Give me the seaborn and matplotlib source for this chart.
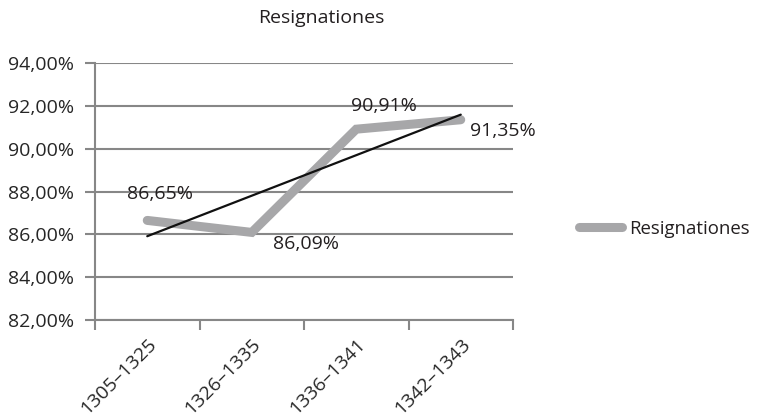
import matplotlib
matplotlib.use("Agg")
import matplotlib.pyplot as plt
from matplotlib.ticker import FixedLocator, FuncFormatter
import seaborn as sns
import pandas as pd

periods = ["1305–1325", "1326–1335", "1336–1341", "1342–1343"]
resignationes = [86.65, 86.09, 90.91, 91.35]
label_offsets = [(9, 19), (39, -8), (20, 17), (30, -8)]  # points

sns.set_theme(style="white")
plt.rcParams["font.family"] = ["Open Sans", "DejaVu Sans"]
plt.rcParams["text.color"] = "#231f20"
FS = 14

df = pd.DataFrame({"x": range(len(periods)), "period": periods, "value": resignationes})

fig = plt.figure(figsize=(7.57, 4.19), dpi=100)
ax = fig.add_axes([95 / 757, 1 - 320 / 419, (513 - 95) / 757, (320 - 63) / 419])

grid_c = "#878787"
ax.set_ylim(82, 94)
ax.set_xlim(-0.5, len(periods) - 0.5)
for v in range(82, 95, 2):
    ax.axhline(v, color=grid_c, lw=1.5, zorder=0)

sns.lineplot(data=df, x="x", y="value", ax=ax, color="#a7a7a9", lw=6.5,
             solid_capstyle="round", solid_joinstyle="miter", label="Resignationes",
             legend=False, zorder=2)
series_line = ax.get_lines()[-1]
sns.regplot(data=df, x="x", y="value", ax=ax, ci=None, scatter=False,
            line_kws=dict(color="#111111", lw=1.6, zorder=3))

for xi, v, (dx, dy) in zip(df["x"], resignationes, label_offsets):
    ax.annotate(f"{v:.2f}%".replace(".", ","), (xi, v), xytext=(dx, dy),
                textcoords="offset points", ha="center", va="center", fontsize=FS)

ax.yaxis.set_major_locator(FixedLocator(range(82, 95, 2)))
ax.yaxis.set_major_formatter(FuncFormatter(lambda v, p: f"{v:.2f}%".replace(".", ",")))
ax.xaxis.set_major_locator(FixedLocator([i - 0.5 for i in range(len(periods) + 1)]))
ax.xaxis.set_major_formatter(FuncFormatter(lambda v, p: ""))
ax.xaxis.set_minor_locator(FixedLocator(list(range(len(periods)))))
ax.set_xticklabels(periods, minor=True, rotation=45, ha="right", rotation_mode="anchor",
                   fontsize=FS)
ax.tick_params(axis="x", which="major", length=7, width=1.5, color=grid_c, bottom=True)
ax.tick_params(axis="x", which="minor", length=0, pad=11)
ax.tick_params(axis="y", length=7, width=1.5, color=grid_c, left=True, labelsize=FS, pad=8)
ax.set_xlabel("")
ax.set_ylabel("")
for s in ["top", "right"]:
    ax.spines[s].set_visible(False)
for s in ["left", "bottom"]:
    ax.spines[s].set_color(grid_c)
    ax.spines[s].set_linewidth(1.5)

fig.text(321 / 757, 1 - 18 / 419, "Resignationes", ha="center", va="center", fontsize=FS)

fig.legend([series_line], ["Resignationes"], loc="center left",
           bbox_to_anchor=(562 / 757, 1 - 229 / 419), frameon=False,
           fontsize=13.4, handlelength=2.3, handletextpad=0.4)

fig.savefig("out.png", dpi=100)
